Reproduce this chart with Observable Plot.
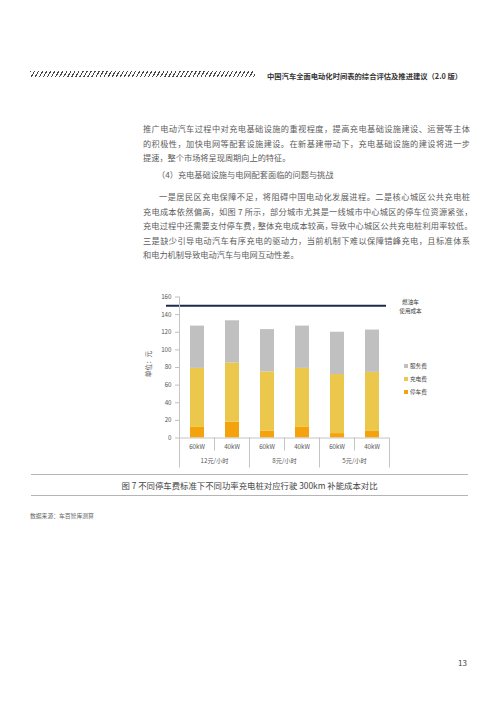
<!DOCTYPE html>
<html>
<head>
<meta charset="utf-8">
<script src="https://cdn.jsdelivr.net/npm/d3@7"></script>
<script src="https://cdn.jsdelivr.net/npm/@observablehq/plot@0.6"></script>
<style>
  html, body { margin: 0; padding: 0; background: #fff; }
  #page { position: relative; width: 499px; height: 706px; overflow: hidden; background: #fff;
          font-family: "Noto Sans CJK SC", "Noto Sans", sans-serif; color: #5c5c5c; }
  .abs { position: absolute; white-space: nowrap; }
  .hatch { position: absolute; left: 30px; top: 71px; width: 225px; height: 6px;
           background: repeating-linear-gradient(120deg, #4a4a4a 0 1.1px, transparent 1.1px 3.5px); }
  .header { left: 267px; top: 70px; font-size: 7.3px; line-height: 12px; font-weight: 700; color: #333; }
  .ln { position: absolute; left: 143px; width: 327px; height: 14px; line-height: 14px; font-size: 8.2px;
        text-align: justify; text-align-last: justify; white-space: nowrap; color: #5c5c5c; }
  .ln.last { text-align-last: left; }
  .ln.ind { left: 159px; width: 311px; }
  .p { letter-spacing: -0.3em; }
  .rule { position: absolute; left: 31px; width: 437px; height: 1px; background: #b5b5b5; }
  .cap { left: 0; width: 499px; text-align: center; top: 478px; font-size: 8.4px; line-height: 14px; color: #454545; }
  .src { left: 30px; top: 512px; font-size: 5.8px; line-height: 8px; color: #666; }
  .pg { left: 458px; top: 657px; font-size: 8px; line-height: 12px; color: #444; }
  .leg { position: absolute; left: 404px; font-size: 5.6px; line-height: 8px; color: #454545; white-space: nowrap; }
  .leg i { display: inline-block; width: 4px; height: 4px; margin-right: 2px; vertical-align: 0px; }
  #chart { position: absolute; left: 130px; top: 280px; }
</style>
</head>
<body>
<div id="page">
  <div class="hatch"></div>
  <div class="abs header">中国汽车全面电动化时间表的综合评估及推进建议（2.0 版）</div>

  <div class="ln" style="top:121px">推广电动汽车过程中对充电基础设施的重视程度，提高充电基础设施建设、运营等主体</div>
  <div class="ln" style="top:136px">的积极性，加快电网等配套设施建设。在新基建带动下，充电基础设施的建设将进一步</div>
  <div class="ln last" style="top:150px">提速，整个市场将呈现周期向上的特征。</div>

  <div class="ln last" style="top:167px;left:157px">（4）充电基础设施与电网配套面临的问题与挑战</div>

  <div class="ln ind" style="top:189px">一是居民区充电保障不足，将阻碍中国电动化发展进程。二是核心城区公共充电桩</div>
  <div class="ln" style="top:204px">充电成本依然偏高，如图 7 所示，部分城市尤其是一线城市中心城区的停车位资源紧张<span class="p">，</span></div>
  <div class="ln" style="top:218px">充电过程中还需要支付停车费<span class="p">，</span>整体充电成本较高<span class="p">，</span>导致中心城区公共充电桩利用率较低<span class="p">。</span></div>
  <div class="ln" style="top:233px">三是缺少引导电动汽车有序充电的驱动力，当前机制下难以保障错峰充电，且标准体系</div>
  <div class="ln last" style="top:247px">和电力机制导致电动汽车与电网互动性差。</div>

  <div id="chart"></div>
  <div id="legend"></div>

  <div class="rule" style="top:474px"></div>
  <div class="abs cap">图 7 不同停车费标准下不同功率充电桩对应行驶 300km 补能成本对比</div>
  <div class="rule" style="top:495px"></div>
  <div class="abs src">数据来源：车百智库测算</div>
  <div class="abs pg">13</div>
</div>

<script>
// ---- data ----
const rates = ["12元/小时", "8元/小时", "5元/小时"];
const powers = ["60kW", "40kW"];
const parkingFee = [12, 18, 8, 12, 5, 7.5];
const chargingFee = [67, 67, 67, 67, 67, 67];
const serviceFee = [48, 48, 48, 48, 48, 48];
const fuelCost = 150;
const fuelLabel = "燃油车\n使用成本";
const types = ["停车费", "充电费", "服务费"];
const typeColors = ["#f5a30c", "#ebc74b", "#c0c0c0"];
const yTicks = [0, 20, 40, 60, 80, 100, 120, 140, 160];
const yLabel = "单位：元";

// ---- table ----
const cats = [];
rates.forEach(r => powers.forEach(p => cats.push(r + "|" + p)));
const series = [parkingFee, chargingFee, serviceFee];
const rows = [];
cats.forEach((c, i) => {
  types.forEach((t, k) => rows.push({cat: c, type: t, value: series[k][i]}));
});

// ---- custom category axis (through the x scale) ----
function categoryAxis(index, scales, values, dims) {
  const sx = scales.x, sy = scales.y;
  const bw = sx.bandwidth();
  const step = sx.step ? sx.step() : bw;
  const gap = (step - bw) / 2;
  const y0 = sy(0), yTop = sy(yTicks[yTicks.length - 1]);
  const g = d3.create("svg:g").attr("font-family", '"Noto Sans CJK SC", sans-serif');
  const line = "#c4c4c4";
  g.append("line").attr("x1", sx(cats[0]) - gap).attr("x2", sx(cats[0]) - gap)
    .attr("y1", yTop).attr("y2", y0 + 30).attr("stroke", line);
  cats.forEach((c, i) => {
    const left = sx(c) - gap;
    if (i > 0) {
      g.append("line").attr("x1", left).attr("x2", left)
        .attr("y1", y0).attr("y2", y0 + (i % 2 === 0 ? 30 : 13)).attr("stroke", line);
    }
    g.append("text").attr("x", sx(c) + bw / 2).attr("y", y0 + 9).attr("dy", "0.35em")
      .attr("text-anchor", "middle").attr("font-size", 6.2).attr("fill", "#555")
      .text(c.split("|")[1]);
  });
  const last = cats[cats.length - 1];
  const right = sx(last) + bw + gap;
  g.append("line").attr("x1", right).attr("x2", right).attr("y1", y0).attr("y2", y0 + 30).attr("stroke", line);
  rates.forEach((r, j) => {
    const a = sx(cats[j * 2]), b = sx(cats[j * 2 + 1]) + bw;
    g.append("text").attr("x", (a + b) / 2).attr("y", y0 + 23.5).attr("dy", "0.35em")
      .attr("text-anchor", "middle").attr("font-size", 6.2).attr("fill", "#555").text(r);
  });
  const lx = sx(cats[0]) - gap - 31, ly = (yTop + y0) / 2 - 3;
  g.append("text").attr("transform", `translate(${lx},${ly}) rotate(-90)`).attr("dy", "0.35em")
    .attr("text-anchor", "middle").attr("font-size", 6.6).attr("fill", "#555").text(yLabel);
  return g.node();
}

const chart = Plot.plot({
  width: 340,
  height: 200,
  marginLeft: 49,
  marginRight: 81,
  marginTop: 16.5,
  marginBottom: 42.5,
  style: {fontFamily: '"Noto Sans CJK SC", "Noto Sans", sans-serif', fontSize: "6.2px", color: "#555", background: "transparent", overflow: "visible"},
  x: {domain: cats, paddingInner: 0.6, paddingOuter: 0.3, axis: null},
  y: {domain: [0, 160], axis: null},
  color: {domain: types, range: typeColors},
  marks: [
    Plot.barY(rows, {x: "cat", y: "value", fill: "type"}),
    Plot.ruleY([0], {stroke: "#c4c4c4"}),
    Plot.axisY({ticks: yTicks, tickSize: 4, tickPadding: 4, stroke: "#bfbfbf", fill: "#555", label: null}),
    Plot.ruleY([fuelCost], {stroke: "#1d2b4a", strokeWidth: 2, insetLeft: -13, insetRight: 3}),
    Plot.text([fuelCost], {y: d => d, frameAnchor: "right", text: () => fuelLabel, dx: 21, dy: -0.5,
      fontSize: 5.6, lineHeight: 1.65, fill: "#404040", textAnchor: "middle"}),
    categoryAxis
  ]
});
document.getElementById("chart").appendChild(chart);

// ---- legend (right side, top to bottom: 服务费, 充电费, 停车费) ----
const legend = document.getElementById("legend");
const legendTops = [362, 375, 388];
types.slice().reverse().forEach((t, i) => {
  const k = types.length - 1 - i;
  const d = document.createElement("div");
  d.className = "leg";
  d.style.top = legendTops[i] + "px";
  d.innerHTML = `<i style="background:${typeColors[k]}"></i>${t}`;
  legend.appendChild(d);
});
</script>
</body>
</html>
